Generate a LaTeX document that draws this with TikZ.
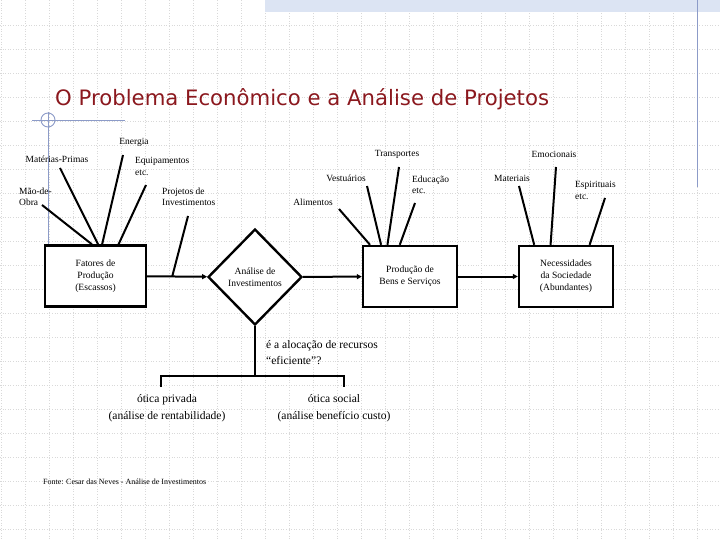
\documentclass[tikz,border=0pt]{standalone}
\usepackage{fontspec}
\setmainfont{Liberation Serif}
\newfontfamily\titulofont{DejaVu Sans}
\usetikzlibrary{arrows.meta, calc, shapes.geometric}
\definecolor{titulo}{RGB}{139,24,30}
\definecolor{azulado}{RGB}{140,155,200}
\definecolor{faixa}{RGB}{220,228,243}

\begin{document}
\begin{tikzpicture}[x=1bp, y=-1bp, >={Triangle[length=5bp, width=5bp]},
  grade/.style={gray!30, line width=0.6bp, dash pattern=on 1bp off 1.6bp},
  guia/.style={azulado, line width=0.9bp},
  caixa/.style={draw, fill=white, line width=2.4bp, minimum height=61bp, inner sep=0pt, align=center, font=\fontsize{9.6}{12}\selectfont},
  losango/.style={draw, fill=white, diamond, line width=2.4bp, minimum width=94bp, minimum height=96bp, inner sep=0pt, align=center, font=\fontsize{9.6}{12}\selectfont},
  raio/.style={line width=2bp},
  rotulo/.style={inner sep=0pt, font=\fontsize{9.5}{11.5}\selectfont, align=left},
  texto/.style={inner sep=0pt, font=\fontsize{11.6}{16.5}\selectfont}]
  \useasboundingbox (0,0) rectangle (720,540);
  % fundo quadriculado
  \foreach \x in {1,25,...,697}{\draw[grade] (\x,0) -- (\x,540);}
  \foreach \y in {25,49,...,529}{\draw[grade] (0,\y) -- (720,\y);}
  \fill[faixa] (265,0) rectangle (720,12);
  \draw[guia] (697,0) -- (697,187);
  \draw[guia] (32,120) -- (125,120);
  \draw[guia] (48,112) -- (48,245);
  \draw[guia] (48,120) circle (7);
  % titulo
  \node[anchor=base west, inner sep=0pt, text=titulo, font=\titulofont\fontsize{21.3}{25}\selectfont] (tit) at (55,106) {O Problema Econômico e a Análise de Projetos};
  % blocos principais
  \node[caixa, minimum width=101bp] (fat) at (95.5,276) {Fatores de\\Produção\\(Escassos)};
  \node[losango] (ana) at (255,277) {Análise de\\Investimentos};
  \node[caixa, minimum width=94bp] (pro) at (410,276.5) {Produção de\\Bens e Serviços};
  \node[caixa, minimum width=94bp] (nec) at (566,276.5) {Necessidades\\da Sociedade\\(Abundantes)};
  \draw[raio, ->] (fat) -- (ana);
  \draw[raio, ->] (ana) -- (pro);
  \draw[raio, ->] (pro) -- (nec);
  % rotulos dos fatores
  \node[rotulo] (en) at (134,142) {Energia};
  \node[rotulo] (mp) at (57,159) {Matérias-Primas};
  \node[rotulo, anchor=west] (eq) at (135,166.5) {Equipamentos\\etc.};
  \node[rotulo, anchor=west] (mo) at (19,196.5) {Mão-de-\\Obra};
  \node[rotulo, anchor=west] (pj) at (162,196.5) {Projetos de\\Investimentos};
  % rotulos dos bens
  \node[rotulo] (tr) at (397,154) {Transportes};
  \node[rotulo] (ve) at (346,178) {Vestuários};
  \node[rotulo, anchor=west] (ed) at (412,185) {Educação\\etc.};
  \node[rotulo] (al) at (313,202) {Alimentos};
  % rotulos das necessidades
  \node[rotulo] (em) at (554,154) {Emocionais};
  \node[rotulo] (ma) at (512,178) {Materiais};
  \node[rotulo, anchor=west] (es) at (575,190.5) {Espirituais\\etc.};
  % pontas livres dos raios
  \coordinate (pmo) at (42,205);  \coordinate (pmp) at (60,168);
  \coordinate (pen) at (123,155); \coordinate (peq) at (146,185);
  \coordinate (ppj) at (188,216);
  \coordinate (pal) at (339,209); \coordinate (pve) at (367,186);
  \coordinate (ptr) at (399,167); \coordinate (ped) at (415,203);
  \coordinate (pma) at (519,186); \coordinate (pem) at (556,167);
  \coordinate (pes) at (605,198);
  % raios
  \foreach \p/\f in {pmo/0.465,pmp/0.525,pen/0.564,peq/0.723}{
    \draw[raio] (\p) -- ($(fat.north west)!\f!(fat.north east)$);}
  \foreach \p/\f in {pal/0.085,pve/0.2,ptr/0.266,ped/0.394}{
    \draw[raio] (\p) -- ($(pro.north west)!\f!(pro.north east)$);}
  \foreach \p/\f in {pma/0.17,pem/0.34,pes/0.745}{
    \draw[raio] (\p) -- ($(nec.north west)!\f!(nec.north east)$);}
  \draw[raio] (ppj) -- ($(fat.east)!0.42!(ana.west)$);
  % bifurcacao
  \coordinate (bif) at (255,376);
  \coordinate (pe1) at (161,387); \coordinate (pe2) at (344,387);
  \draw[raio] (ana.south) -- (bif);
  \draw[raio] (pe1) |- (bif) -| (pe2);
  \node[texto, anchor=north west, align=left] (perg) at (266,340) {é a alocação de recursos\\“eficiente”?};
  \node[texto, align=center] (priv) at (167,408) {ótica privada\\(análise de rentabilidade)};
  \node[texto, align=center] (soc) at (334,408) {ótica social\\(análise benefício custo)};
  % fonte
  \node[inner sep=0pt, anchor=west, font=\fontsize{8}{9}\selectfont] (fon) at (43,482) {Fonte: Cesar das Neves - Análise de Investimentos};
\end{tikzpicture}
\end{document}
